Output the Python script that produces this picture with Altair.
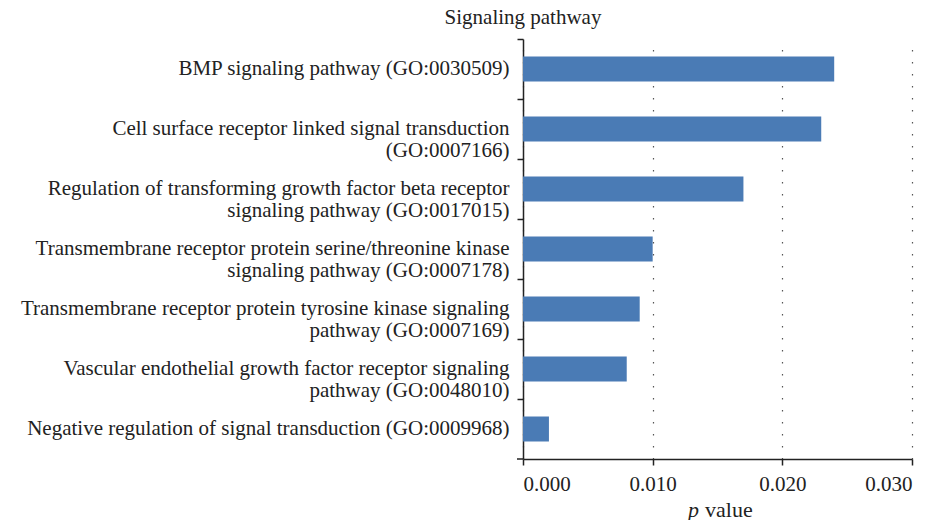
import altair as alt
import pandas as pd

categories = [
    "BMP signaling pathway (GO:0030509)",
    "Cell surface receptor linked signal transduction|(GO:0007166)",
    "Regulation of transforming growth factor beta receptor|signaling pathway (GO:0017015)",
    "Transmembrane receptor protein serine/threonine kinase|signaling pathway (GO:0007178)",
    "Transmembrane receptor protein tyrosine kinase signaling|pathway (GO:0007169)",
    "Vascular endothelial growth factor receptor signaling|pathway (GO:0048010)",
    "Negative regulation of signal transduction (GO:0009968)",
]
p_values = [0.024, 0.023, 0.017, 0.010, 0.009, 0.008, 0.002]
x_ticks = [0.0, 0.01, 0.02, 0.03]

df = pd.DataFrame({"term": categories, "p": p_values})

FONT = "Liberation Serif"
INK = "#222222"

bars = alt.Chart(df).mark_bar(color="#4a7bb5", height=25).encode(
    y=alt.Y(
        "term:N",
        sort=categories,
        scale=alt.Scale(paddingInner=0, paddingOuter=0),
        axis=alt.Axis(
            title=None,
            labelExpr="split(datum.label, '|')",
            labelFont=FONT,
            labelFontSize=21,
            labelColor=INK,
            labelLineHeight=22,
            labelPadding=8,
            labelLimit=600,
            bandPosition=0,
            tickSize=6,
            tickColor=INK,
            tickWidth=1.5,
            domainColor=INK,
            domainWidth=1.5,
            grid=False,
        ),
    ),
    x=alt.X(
        "p:Q",
        scale=alt.Scale(domain=[0, 0.03], nice=False),
        axis=alt.Axis(
            title=None,
            values=x_ticks,
            format=".3f",
            labelFont=FONT,
            labelFontSize=21,
            labelColor=INK,
            labelPadding=8,
            tickSize=6,
            tickColor=INK,
            tickWidth=1.5,
            domainColor=INK,
            domainWidth=1.5,
            grid=True,
            gridDash=[1.5, 10.5],
            gridColor="#555555",
            gridWidth=1.2,
        ),
    ),
)

bottom_tick = alt.Chart(pd.DataFrame({"a": [0]})).mark_rule(color=INK, strokeWidth=1.5).encode(
    x=alt.value(-6), x2=alt.value(0), y=alt.value(420)
)

xtitle_p = alt.Chart(pd.DataFrame({"t": ["p"]})).mark_text(
    font=FONT, fontSize=22, fontStyle="italic", align="right", baseline="alphabetic", color=INK
).encode(text="t:N", x=alt.value(176), y=alt.value(478))

xtitle_v = alt.Chart(pd.DataFrame({"t": ["value"]})).mark_text(
    font=FONT, fontSize=22, align="left", baseline="alphabetic", color=INK
).encode(text="t:N", x=alt.value(182), y=alt.value(478))

chart = alt.layer(bars, bottom_tick, xtitle_p, xtitle_v).properties(
    width=389,
    height=420,
    autosize="none",
    padding={"left": 515, "top": 31, "right": 17, "bottom": 61},
    title=alt.TitleParams(
        "Signaling pathway",
        anchor="start",
        align="center",
        frame="group",
        font=FONT,
        fontSize=21,
        fontWeight="normal",
        color=INK,
        offset=10,
    ),
).configure_view(stroke=None)

chart.save("out.html", embed_options={"renderer": "svg", "actions": False})
